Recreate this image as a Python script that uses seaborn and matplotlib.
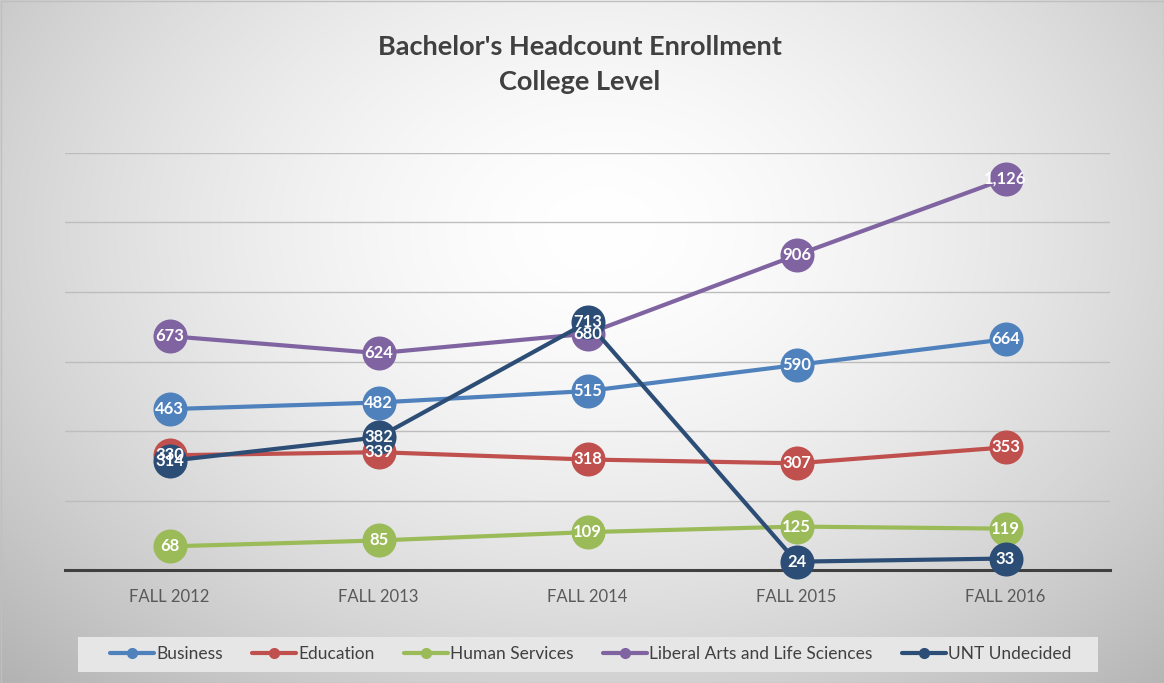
import matplotlib.pyplot as plt
import pandas as pd
import numpy as np
import seaborn as sns
from matplotlib.lines import Line2D

# datos
years = ["FALL 2012", "FALL 2013", "FALL 2014", "FALL 2015", "FALL 2016"]
business = [463, 482, 515, 590, 664]
education = [330, 339, 318, 307, 353]
human_services = [68, 85, 109, 125, 119]
liberal_arts = [673, 624, 680, 906, 1126]
unt_undecided = [314, 382, 713, 24, 33]

colleges = ["Business", "Education", "Human Services",
            "Liberal Arts and Life Sciences", "UNT Undecided"]
series = [business, education, human_services, liberal_arts, unt_undecided]
colores = ["#4F81BD", "#C0504D", "#9BBB59", "#8064A2", "#2C4D75"]

rows = []
for c, vals in zip(colleges, series):
    for i, v in enumerate(vals):
        rows.append({"college": c, "xi": i, "year": years[i], "valor": v})
df = pd.DataFrame(rows)

sns.set_theme(style="white")
plt.rcParams['font.family'] = ['Lato', 'DejaVu Sans']

W, H = 1164, 683
fig = plt.figure(figsize=(W / 100, H / 100), dpi=100)

# fondo con degradado radial
bg = fig.add_axes([0, 0, 1, 1])
yy, xx = np.mgrid[0:H, 0:W]
r = np.sqrt(((xx - 600) / 700.0) ** 2 + ((yy - 230) / 520.0) ** 2)
g = np.clip(1.0 - 0.22 * r ** 1.6, 0, 1)
img = np.dstack([g, g, g])
bg.imshow(img, extent=[0, W, H, 0], aspect='auto', interpolation='bilinear')
bg.set_xlim(0, W)
bg.set_ylim(H, 0)
bg.axis('off')
bg.add_patch(plt.Rectangle((0.5, 0.5), W - 1, H - 1, fill=False, edgecolor="#BFBFBF", lw=1))
# caja de la leyenda
bg.add_patch(plt.Rectangle((78, 637), 1020, 35, facecolor="#E6E6E6", edgecolor="none"))

ax = fig.add_axes([65 / W, 1 - 570 / H, (1110 - 65) / W, (570 - 153) / H])
ax.patch.set_alpha(0)

sns.lineplot(data=df, x="xi", y="valor", hue="college", palette=colores,
             hue_order=colleges, marker="o", markersize=24.5, markeredgewidth=0,
             linewidth=3, ax=ax, legend=False, sort=False)
for ln in ax.lines:
    ln.set_clip_on(False)
    ln.set_zorder(5)

# etiquetas
for c, vals in zip(colleges, series):
    for i, v in enumerate(vals):
        ax.text(i, v, f"{v:,}", ha="center", va="center", color="white",
                fontsize=12, fontweight="bold", zorder=10)

ax.set_xlim(-0.5, 4.5)
ax.set_ylim(0, 1200)
ax.set_yticks([200, 400, 600, 800, 1000, 1200])
ax.yaxis.grid(True, color="#BDBDBD", lw=1)
ax.set_yticklabels([])
ax.tick_params(axis='y', length=0)
ax.set_xticks(range(5))
ax.set_xticklabels(years, color="#595959", fontsize=12)
ax.tick_params(axis='x', length=0, pad=14)
ax.set_xlabel("")
ax.set_ylabel("")
for s in ["top", "right", "left"]:
    ax.spines[s].set_visible(False)
ax.spines["bottom"].set_color("#404040")
ax.spines["bottom"].set_linewidth(2.2)
ax.spines["bottom"].set_zorder(4)

fig.text(580 / W, 1 - 47 / H, "Bachelor's Headcount Enrollment", ha="center", va="center",
         fontsize=19.5, fontweight="bold", color="#404040")
fig.text(580 / W, 1 - 82 / H, "College Level", ha="center", va="center",
         fontsize=19.5, fontweight="bold", color="#404040")

handles = [Line2D([0], [0], color=col, lw=3, marker="o", markersize=7) for col in colores]
leg = fig.legend(handles, colleges, loc="center", bbox_to_anchor=(591 / W, 1 - 654 / H),
                 ncol=5, frameon=False, fontsize=12.5, handlelength=2.5, handletextpad=0.15,
                 columnspacing=1.7)
for t in leg.get_texts():
    t.set_color("#404040")

fig.savefig("out.png", dpi=100)
